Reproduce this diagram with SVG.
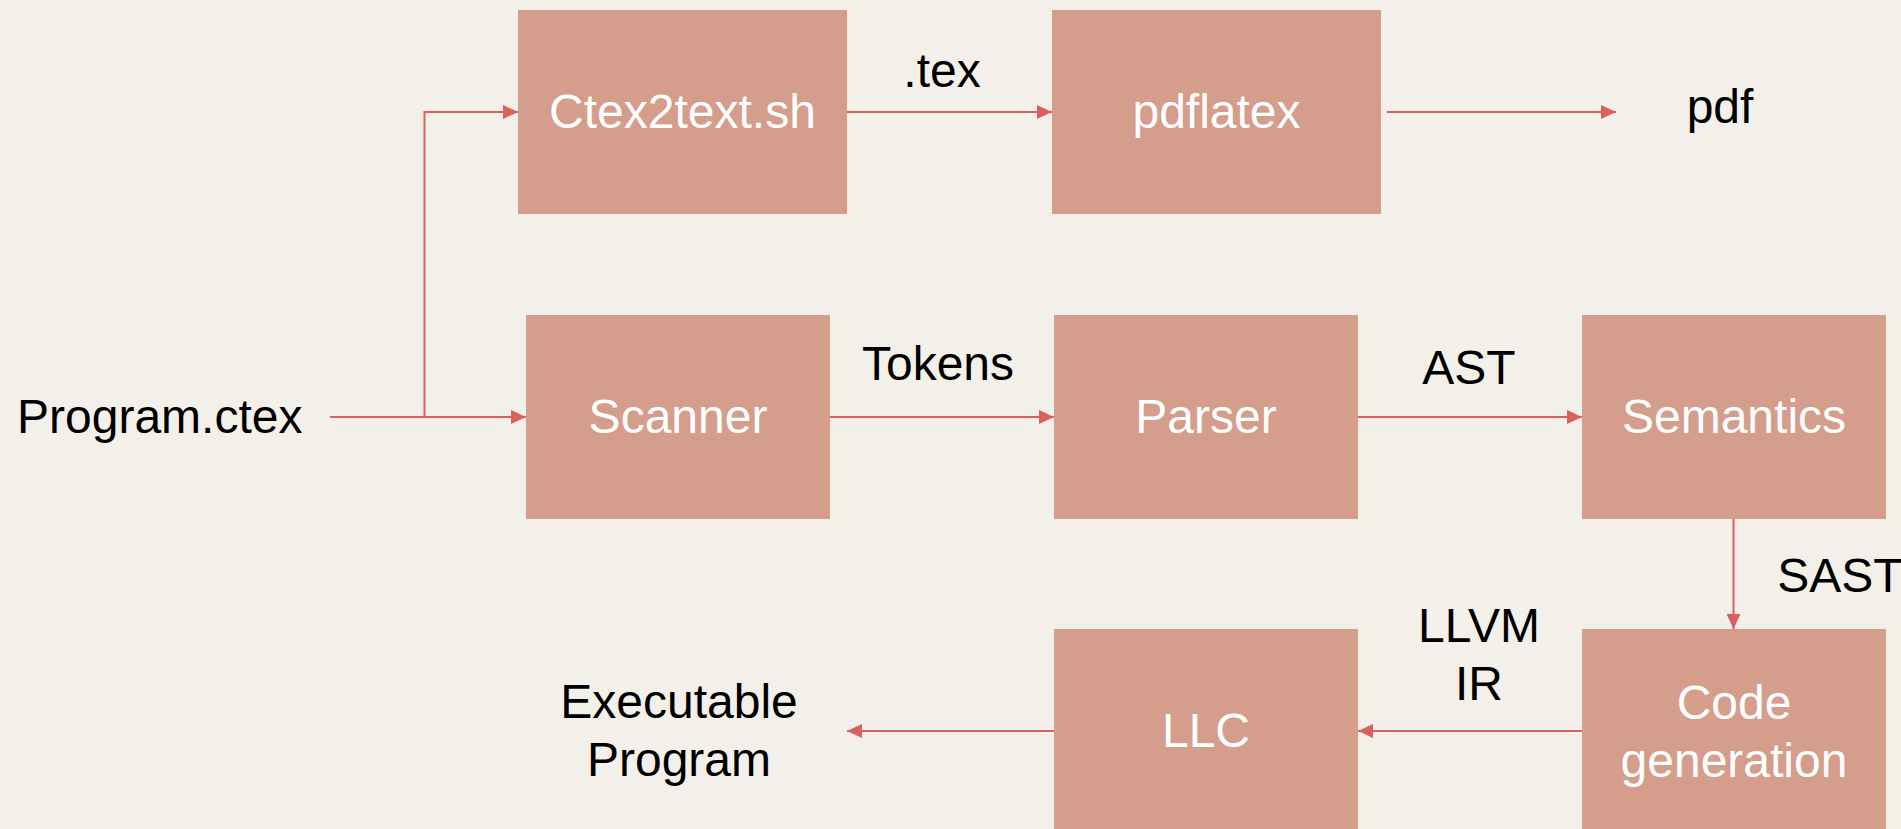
<svg xmlns="http://www.w3.org/2000/svg" width="1901" height="829" viewBox="0 0 1901 829">
<style>
.box{fill:#D59D8B;}
.nt{font-family:"Liberation Sans",Arial,sans-serif;font-size:48px;fill:#FFFFFF;text-anchor:middle;}
.lb{font-family:"Liberation Sans",Arial,sans-serif;font-size:48px;fill:#000000;text-anchor:middle;}
.cn{fill:none;stroke:#D9605E;stroke-width:2;}
</style>
<defs>
<marker id="ah" markerUnits="userSpaceOnUse" markerWidth="16" markerHeight="14" refX="15" refY="7" orient="auto">
<path d="M0,0 L15,7 L0,14 z" fill="#D9605E"/>
</marker>
</defs>
<rect width="1901" height="829" fill="#F3F0EA"/>
<g id="connectors">
<line class="cn" x1="330" y1="417" x2="526" y2="417" marker-end="url(#ah)"/>
<polyline class="cn" points="424.5,417 424.5,112 518,112" marker-end="url(#ah)"/>
<line class="cn" x1="847" y1="112" x2="1052" y2="112" marker-end="url(#ah)"/>
<line class="cn" x1="1387" y1="112" x2="1616" y2="112" marker-end="url(#ah)"/>
<line class="cn" x1="830" y1="417" x2="1054" y2="417" marker-end="url(#ah)"/>
<line class="cn" x1="1358" y1="417" x2="1582" y2="417" marker-end="url(#ah)"/>
<line class="cn" x1="1733.5" y1="519" x2="1733.5" y2="629" marker-end="url(#ah)"/>
<line class="cn" x1="1582" y1="731" x2="1358" y2="731" marker-end="url(#ah)"/>
<line class="cn" x1="1054" y1="731" x2="847" y2="731" marker-end="url(#ah)"/>
</g>
<g id="ctex2text">
<rect class="box" x="518" y="10" width="329" height="204"/>
<text class="nt" x="682.5" y="128">Ctex2text.sh</text>
</g>
<g id="pdflatex">
<rect class="box" x="1052" y="10" width="329" height="204"/>
<text class="nt" x="1216.5" y="128">pdflatex</text>
</g>
<g id="scanner">
<rect class="box" x="526" y="315" width="304" height="204"/>
<text class="nt" x="678" y="433">Scanner</text>
</g>
<g id="parser">
<rect class="box" x="1054" y="315" width="304" height="204"/>
<text class="nt" x="1206" y="433">Parser</text>
</g>
<g id="semantics">
<rect class="box" x="1582" y="315" width="304" height="204"/>
<text class="nt" x="1734" y="433">Semantics</text>
</g>
<g id="codegen">
<rect class="box" x="1582" y="629" width="304" height="210"/>
<text class="nt" x="1734" y="719">Code</text>
<text class="nt" x="1734" y="777">generation</text>
</g>
<g id="llc">
<rect class="box" x="1054" y="629" width="304" height="210"/>
<text class="nt" x="1206" y="747">LLC</text>
</g>
<g id="labels">
<text class="lb" x="17" y="433" style="text-anchor:start">Program.ctex</text>
<text class="lb" x="942" y="87">.tex</text>
<text class="lb" x="1720" y="123">pdf</text>
<text class="lb" x="938" y="380">Tokens</text>
<text class="lb" x="1469" y="384">AST</text>
<text class="lb" x="1840" y="592">SAST</text>
<text class="lb" x="1479" y="642">LLVM</text>
<text class="lb" x="1479" y="700">IR</text>
<text class="lb" x="679" y="718">Executable</text>
<text class="lb" x="679" y="776">Program</text>
</g>
</svg>
